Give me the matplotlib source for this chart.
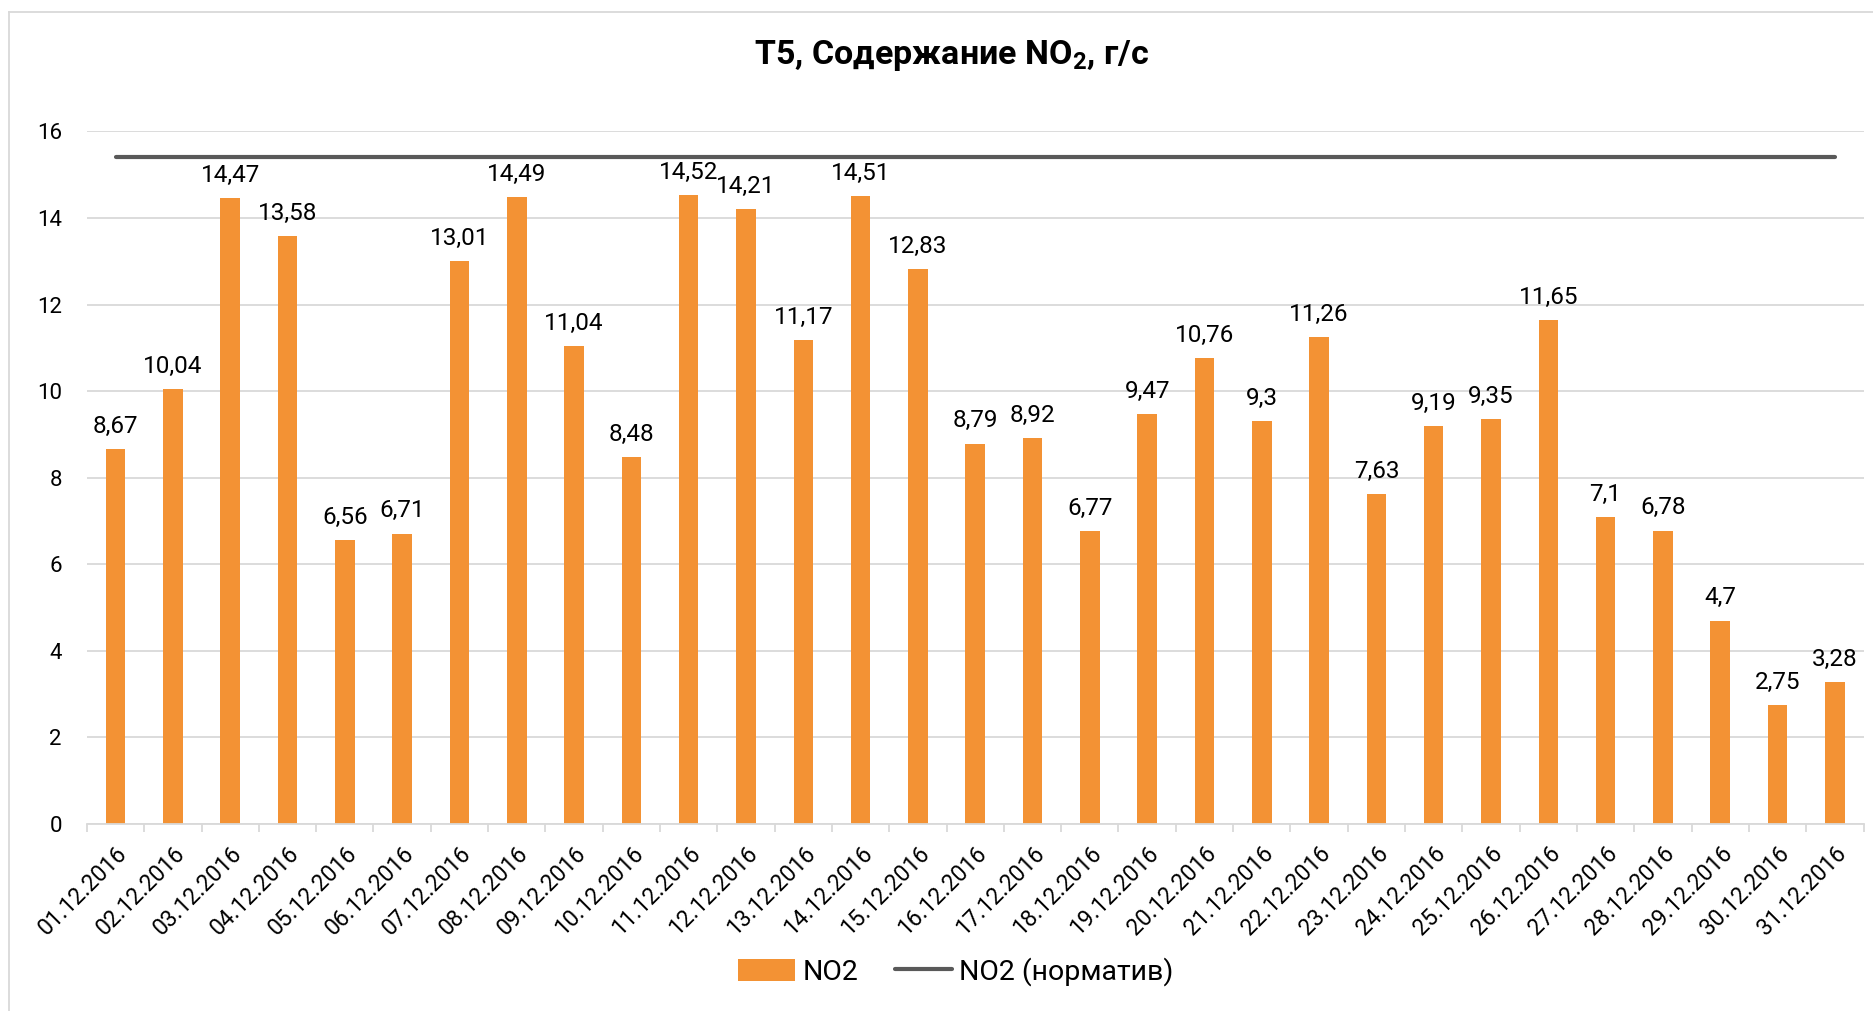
import numpy as np
import matplotlib
matplotlib.use('Agg')
import matplotlib.pyplot as plt
from matplotlib.ticker import MultipleLocator

plt.rcParams['font.family'] = ['Roboto', 'DejaVu Sans']
plt.rcParams['mathtext.fontset'] = 'custom'
plt.rcParams['mathtext.rm'] = 'Roboto'
plt.rcParams['mathtext.bf'] = 'Roboto:bold'

dates = ['%02d.12.2016' % d for d in range(1, 32)]
no2 = [8.67, 10.04, 14.47, 13.58, 6.56, 6.71, 13.01, 14.49, 11.04, 8.48,
       14.52, 14.21, 11.17, 14.51, 12.83, 8.79, 8.92, 6.77, 9.47, 10.76,
       9.3, 11.26, 7.63, 9.19, 9.35, 11.65, 7.1, 6.78, 4.7, 2.75, 3.28]
norm = [15.4] * len(dates)

orange = '#F39234'
grid_c = '#D9D9D9'

fig = plt.figure(figsize=(18.74, 10.11), dpi=100)
ax = fig.add_axes([0.0464, 0.185, 0.948, 0.685])

x = np.arange(len(dates))
bars = ax.bar(x, no2, width=0.34, color=orange, label='NO2', zorder=2)
line, = ax.plot(x, norm, color='#595959', lw=3, solid_capstyle='round',
                label='NO2 (норматив)', zorder=3)

for xi, v in zip(x, no2):
    ax.annotate(('%g' % v).replace('.', ','), (xi, v), xytext=(0, 8),
                textcoords='offset points', ha='center', va='bottom',
                fontsize=17.5, color='#000000')

ax.set_xlim(-0.5, len(dates) - 0.5)
ax.set_ylim(0, 16)
ax.yaxis.set_major_locator(MultipleLocator(2))
ax.grid(axis='y', color=grid_c, lw=1.3, zorder=0)
ax.set_axisbelow(True)

for s in ['top', 'right', 'left']:
    ax.spines[s].set_visible(False)
ax.spines['bottom'].set_color(grid_c)
ax.spines['bottom'].set_linewidth(1.3)

ax.set_xticks(x)
ax.set_xticklabels(dates, rotation=45, ha='right', rotation_mode='anchor',
                   fontsize=16.5)
ax.set_xticks(np.arange(-0.5, len(dates)), minor=True)
ax.tick_params(axis='x', which='major', length=0, pad=13)
ax.tick_params(axis='x', which='minor', length=6, color=grid_c, width=1.3)
ax.tick_params(axis='y', length=0, pad=18, labelsize=16)

fig.text(0.508, 0.945, r'Т5, Содержание NO$_\mathbf{2}$, г/с', ha='center',
         va='center', fontsize=24.5, fontweight='bold')

fig.legend([bars, line], ['NO2', 'NO2 (норматив)'], loc='center',
           bbox_to_anchor=(0.51, 0.039), ncol=2, frameon=False,
           fontsize=20.5, handlelength=2.0, handleheight=0.8,
           columnspacing=1.3, handletextpad=0.25)

# chart frame
fig.add_artist(plt.Line2D([0.005, 0.005], [0, 0.988], color=grid_c, lw=1.3))
fig.add_artist(plt.Line2D([0.005, 1], [0.988, 0.988], color=grid_c, lw=1.3))

fig.savefig('out.png', dpi=100)
